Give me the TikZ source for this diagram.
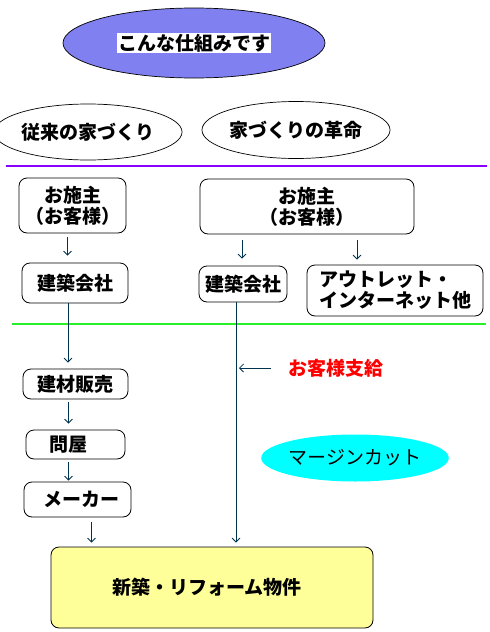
\documentclass[tikz,border=0pt]{standalone}
\usepackage{fontspec}
\newfontfamily\jp{Noto Sans CJK JP}
\usepackage{xcolor}
\usetikzlibrary{arrows.meta,positioning,shapes.geometric,calc}

\definecolor{titleblue}{RGB}{128,128,240}
\definecolor{linkteal}{RGB}{0,51,77}
\definecolor{rulepurple}{RGB}{136,0,255}
\definecolor{rulegreen}{RGB}{40,240,40}
\definecolor{goodsyellow}{RGB}{255,255,153}
\definecolor{margincyan}{RGB}{0,255,255}

\begin{document}
\begin{tikzpicture}[
  x=1pt, y=-1pt,
  >={Straight Barb[length=4pt,width=8pt]},
  jptext/.style = {font=\jp\bfseries\fontsize{19}{21}\selectfont},
  oval/.style   = {ellipse, draw=black, line width=0.7pt, jptext, inner sep=0pt},
  box/.style    = {rectangle, draw=black, line width=0.8pt, rounded corners=8pt,
                   align=center, jptext, inner sep=0pt},
  arr/.style    = {->, line width=0.8pt, draw=linkteal},
  rulel/.style  = {line width=1.2pt}
]
\useasboundingbox (0,0) rectangle (490,632);

%%% ---- TITLE ----
\node[ellipse, fill=titleblue, draw=black, line width=0.7pt,
      minimum width=262, minimum height=70] (title) at (194,43) {};
\node[jptext, fill=white, inner sep=1pt] (titletext) at (title) {こんな仕組みです};

%%% ---- HEADINGS ----
\node[oval, minimum width=154, minimum height=56] (oldway) at (88,132) {従来の家づくり};
\node[oval, minimum width=170, minimum height=57] (newway) at (296,130) {家づくりの革命};

\draw[rulel, draw=rulepurple] (6,166) -- (487,166);

%%% ---- CUSTOMER ROW ----
\node[box, minimum width=107, minimum height=55] (owner1) at (72.5,205.5) {お施主\\（お客様）};
\node[box, minimum width=214, minimum height=55] (owner2) at (307,206.5) {お施主\\（お客様）};

\node[box, minimum width=106, minimum height=40] (firm1)  at (75,283)    {建築会社};
\node[box, minimum width=88,  minimum height=36] (firm2)  at (243,284)   {建築会社};
\node[box, minimum width=176, minimum height=51, align=left] (outlet) at (395,290.5)
     {アウトレット・\\インターネット他};

\draw[arr, shorten <=4pt, shorten >=7pt] ([xshift=-5]owner1.south) -- ([xshift=-5]owner1.south |- firm1.north);
\draw[arr, shorten <=6pt, shorten >=7pt] ([xshift=-1]firm2.north |- owner2.south) -- ([xshift=-1]firm2.north);
\draw[arr, shorten <=6pt, shorten >=5pt] ([xshift=50]owner2.south) -- ([xshift=50]owner2.south |- outlet.north);

\draw[rulel, draw=rulegreen] (12,324) -- (486,324);

%%% ---- SUPPLY CHAIN (left) ----
\node[box, minimum width=105, minimum height=30] (material)  at (75.5,384)   {建材販売};
\node[box, minimum width=99,  minimum height=29] (wholesale) at (75.5,444.5) {問屋\hspace{14pt}};
\node[box, minimum width=107, minimum height=35] (maker)     at (77.5,499.5) {\hspace{8pt}メーカー};

\node[box, fill=goodsyellow, minimum width=322, minimum height=81] (goods) at (212,587.5)
     {新築・リフォーム物件\hspace{10pt}};

\draw[arr, shorten >=6pt] ([xshift=-7]firm1.south) -- ([xshift=-7]firm1.south |- material.north);
\draw[arr, shorten <=3pt, shorten >=6pt] ([xshift=-7]material.south) -- ([xshift=-7]material.south |- wholesale.north);
\draw[arr, shorten <=3pt, shorten >=1pt] ([xshift=-7]wholesale.south) -- ([xshift=-7]wholesale.south |- maker.north);
\draw[arr, shorten <=5pt, shorten >=4pt] ([xshift=14]maker.south) -- ([xshift=14]maker.south |- goods.north);

%%% ---- DIRECT ROUTE (right) ----
\coordinate (drop) at ([xshift=-7]firm2.south);
\draw[arr, shorten >=4pt] (drop) -- (drop |- goods.north);

\node[jptext, text=red, inner sep=0pt, anchor=west] (supply) at (288,368) {お客様支給};
\draw[arr] ([xshift=-17]supply.west) -- ([xshift=3]drop |- supply.west);

\node[ellipse, fill=margincyan, font=\jp\fontsize{19}{21}\selectfont, inner sep=0pt,
      minimum width=156, minimum height=47] (margin) at (355,458) {マージンカット};
\end{tikzpicture}
\end{document}
